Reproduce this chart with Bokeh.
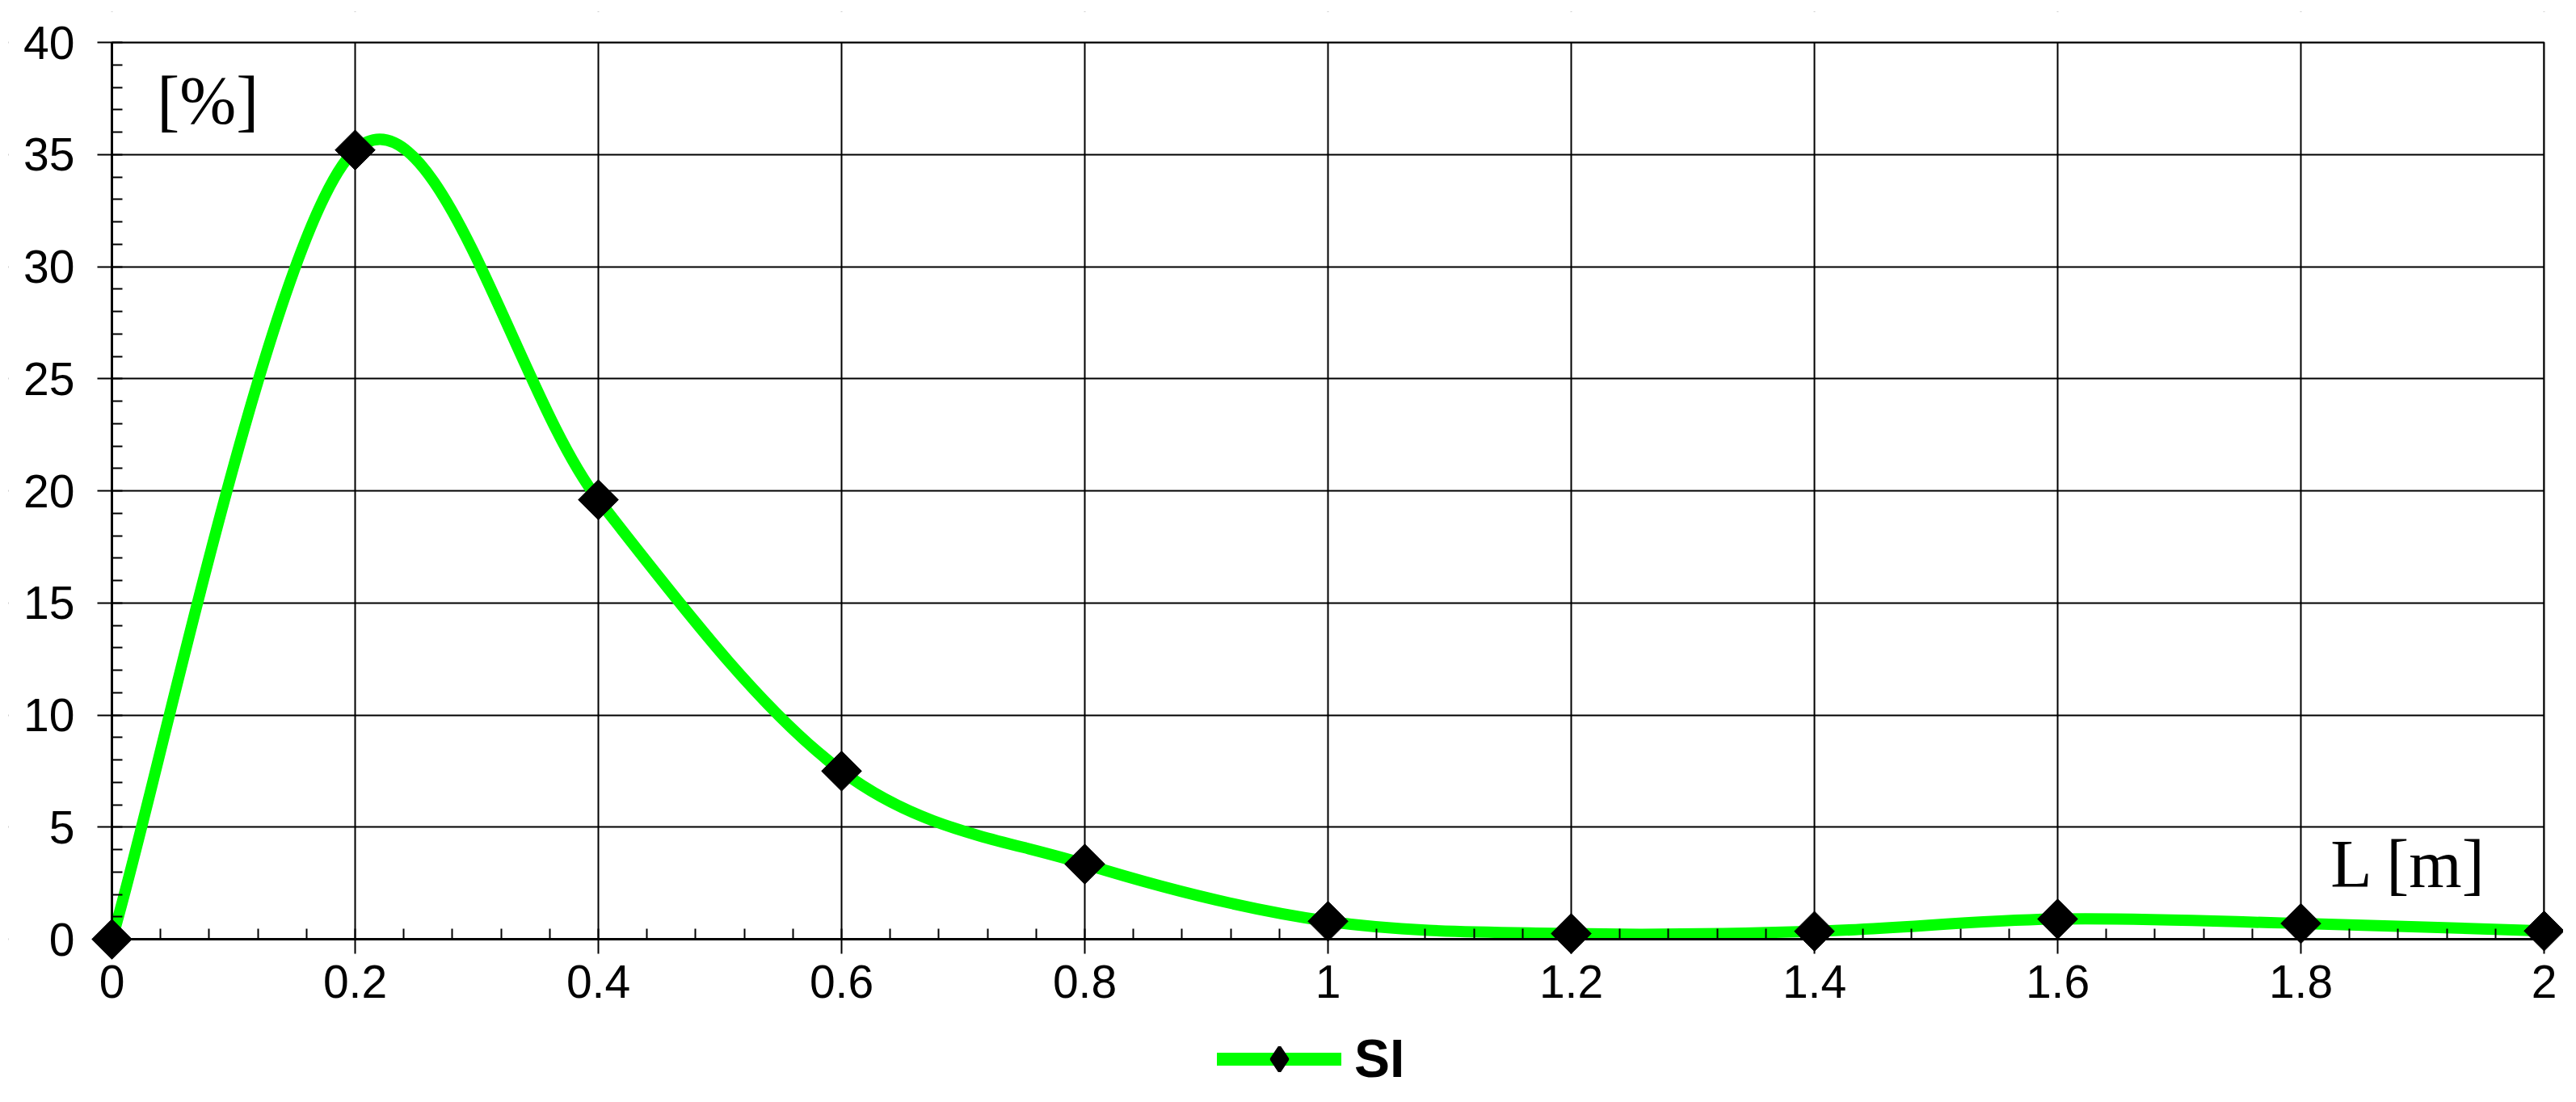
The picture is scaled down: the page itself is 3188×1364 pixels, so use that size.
import numpy as np
from bokeh.plotting import figure
from bokeh.models import (Range1d, FixedTicker, CustomJSTickFormatter, BoxAnnotation,
                          Label, Legend, LegendItem, ColumnDataSource)
from bokeh.embed import file_html
from bokeh.resources import INLINE

# ---- data ----
length_m = [0.0, 0.2, 0.4, 0.6, 0.8, 1.0, 1.2, 1.4, 1.6, 1.8, 2.0]
share_pct = [0.0, 35.2, 19.6, 7.5, 3.35, 0.8, 0.25, 0.35, 0.9, 0.7, 0.37]
series_name = "SI"
y_unit_label = "[%]"
x_unit_label = "L [m]"
x_ticks = [0.0, 0.2, 0.4, 0.6, 0.8, 1.0, 1.2, 1.4, 1.6, 1.8, 2.0]
y_ticks = [0, 5, 10, 15, 20, 25, 30, 35, 40]
x_minor = [round(i * 0.04, 2) for i in range(51)]
y_minor = list(range(41))
X_MIN, X_MAX, Y_MIN, Y_MAX = 0.0, 2.0, 0.0, 40.0

# ---- smooth-line control points (Excel-like Catmull-Rom -> Bezier) ----
xs = np.array(length_m, dtype=float)
ys = np.array(share_pct, dtype=float)
n = len(xs)
xp = np.concatenate([[xs[0]], xs, [xs[-1]]])
yp = np.concatenate([[ys[0]], ys, [ys[-1]]])
seg = ColumnDataSource(dict(
    x0=xs[:-1], y0=ys[:-1], x1=xs[1:], y1=ys[1:],
    cx0=xs[:-1] + (xp[2:n + 1] - xp[0:n - 1]) / 6.0,
    cy0=ys[:-1] + (yp[2:n + 1] - yp[0:n - 1]) / 6.0,
    cx1=xs[1:] - (xp[3:n + 2] - xp[1:n]) / 6.0,
    cy1=ys[1:] - (yp[3:n + 2] - yp[1:n]) / 6.0,
))
pts = ColumnDataSource(dict(x=length_m, y=share_pct))

# ---- layout: the frame covers the whole canvas; the data box sits inside ----
W, H = 3172, 1348
BOX_L, BOX_R, BOX_T, BOX_B = 138, 3148, 52, 1162   # data box in canvas px
FR_L, FR_R, FR_T, FR_B = 10, W, 14, H              # frame in canvas px
px_x = (BOX_R - BOX_L) / (X_MAX - X_MIN)
px_y = (BOX_B - BOX_T) / (Y_MAX - Y_MIN)
x_lo = X_MIN - (BOX_L - FR_L) / px_x
x_hi = X_MAX + (FR_R - BOX_R) / px_x
y_hi = Y_MAX + (BOX_T - FR_T) / px_y
y_lo = Y_MIN - (FR_B - BOX_B) / px_y

p = figure(width=W, height=H, output_backend="svg", toolbar_location=None,
           x_range=Range1d(x_lo, x_hi), y_range=Range1d(y_lo, y_hi),
           min_border_left=FR_L, min_border_right=W - FR_R, min_border_top=FR_T,
           min_border_bottom=H - FR_B, background_fill_color="white",
           border_fill_color="white")
p.outline_line_color = None

p.xaxis.ticker = FixedTicker(ticks=x_ticks, minor_ticks=x_minor)
p.yaxis.ticker = FixedTicker(ticks=y_ticks, minor_ticks=y_minor)
p.xgrid.ticker = FixedTicker(ticks=x_ticks)
p.ygrid.ticker = FixedTicker(ticks=y_ticks)
p.xaxis.formatter = CustomJSTickFormatter(code="return String(Number(tick.toFixed(1)));")
p.yaxis.formatter = CustomJSTickFormatter(code="return String(Math.round(tick));")
p.xaxis.fixed_location = Y_MIN
p.yaxis.fixed_location = X_MIN
p.xaxis.bounds = (X_MIN, X_MAX)
p.yaxis.bounds = (Y_MIN, Y_MAX)

for g in (p.xgrid, p.ygrid):
    g.grid_line_color = "black"
    g.grid_line_width = 2

# white masks so that grid lines stay inside the data box, then the box border
for kw in (dict(left=x_lo, right=X_MIN, bottom=y_lo, top=y_hi),
           dict(left=X_MAX, right=x_hi, bottom=y_lo, top=y_hi),
           dict(left=x_lo, right=x_hi, bottom=Y_MAX, top=y_hi),
           dict(left=x_lo, right=x_hi, bottom=y_lo, top=Y_MIN)):
    p.add_layout(BoxAnnotation(fill_color="white", fill_alpha=1.0, line_color=None,
                               level="underlay", **kw))
p.add_layout(BoxAnnotation(left=X_MIN, right=X_MAX, bottom=Y_MIN, top=Y_MAX,
                           fill_alpha=0, line_color="black", line_width=2,
                           line_alpha=1.0, level="underlay"))

for ax in (p.xaxis, p.yaxis):
    ax.axis_line_color = "black"
    ax.axis_line_width = 3
    ax.major_tick_line_color = "black"
    ax.major_tick_line_width = 2
    ax.minor_tick_line_color = "black"
    ax.minor_tick_line_width = 2
    ax.major_tick_in = 0
    ax.major_tick_out = 18
    ax.minor_tick_in = 13
    ax.minor_tick_out = 0
    ax.major_label_text_font = "Liberation Sans"
    ax.major_label_text_font_size = "57px"
    ax.major_label_text_color = "black"
p.xaxis.major_label_standoff = 14
p.yaxis.major_label_standoff = 28

bez = p.bezier(x0="x0", y0="y0", x1="x1", y1="y1", cx0="cx0", cy0="cy0",
               cx1="cx1", cy1="cy1", source=seg, line_color="#00FF00",
               line_width=14, line_cap="round")
sc = p.scatter(x="x", y="y", source=pts, marker="square", angle=np.pi / 4,
               size=35, fill_color="black", line_color="black")
# same series, used only to draw the legend's key
leg_line = p.line(x="x", y="y", source=pts, line_color="#00FF00", line_width=16,
                  line_cap="round", visible=False)
leg_mark = p.scatter(x="x", y="y", source=pts, marker="diamond", size=30,
                     fill_color="black", line_color="black", line_width=4,
                     visible=False)

p.add_layout(Label(x=0.037, y=37.41, text=y_unit_label, text_font="Liberation Serif",
                   text_font_size="84px", text_color="black",
                   text_baseline="middle", text_align="left"))
p.add_layout(Label(x=1.953, y=3.35, text=x_unit_label, text_font="Liberation Serif",
                   text_font_size="84px", text_color="black",
                   text_baseline="middle", text_align="right"))

legend = Legend(items=[LegendItem(label=series_name, renderers=[leg_line, leg_mark])],
                location=(1506 - FR_L, 0), orientation="horizontal",
                glyph_width=154, glyph_height=75, label_standoff=16,
                label_text_font="Liberation Sans", label_text_font_style="bold",
                label_text_font_size="66px", label_text_color="black",
                border_line_color=None, background_fill_alpha=0,
                margin=0, padding=0, spacing=0, click_policy="none",
                inactive_fill_alpha=0)
p.add_layout(legend, "center")

open("out.html", "w").write(file_html(p, INLINE))
